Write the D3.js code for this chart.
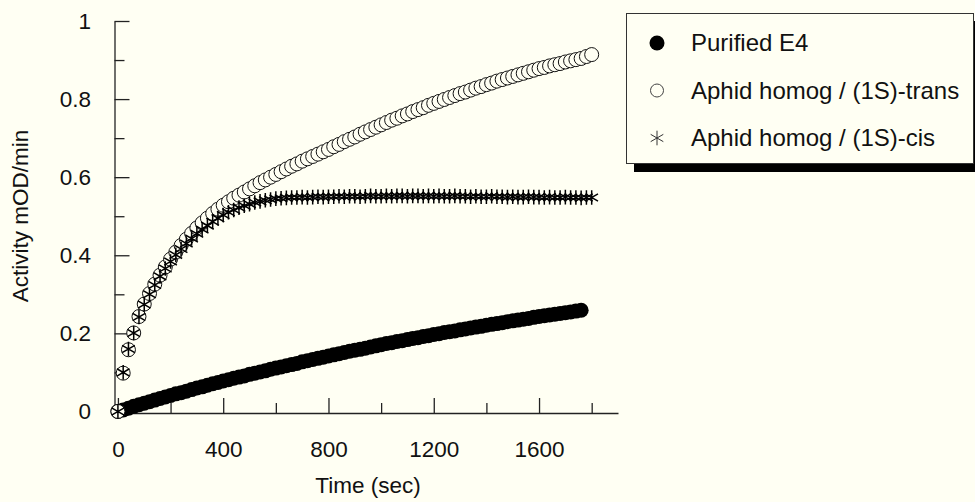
<!DOCTYPE html>
<html>
<head>
<meta charset="utf-8">
<script src="https://cdn.jsdelivr.net/npm/d3@7"></script>
<style>
	body{margin:0;background:#fffff3;}
	svg{display:block;}
</style>
</head>
<body>
<svg id="chart"></svg>
<script>
// sample times (sec)
let times = [
	0,20,40,60,80,100,120,140,160,180,
	200,220,240,260,280,300,320,340,360,380,
	400,420,440,460,480,500,520,540,560,580,
	600,620,640,660,680,700,720,740,760,780,
	800,820,840,860,880,900,920,940,960,980,
	1000,1020,1040,1060,1080,1100,1120,1140,1160,1180,
	1200,1220,1240,1260,1280,1300,1320,1340,1360,1380,
	1400,1420,1440,1460,1480,1500,1520,1540,1560,1580,
	1600,1620,1640,1660,1680,1700,1720,1740,1760,1780,
	1800
]

// Purified E4 (stops at 1760)
let purified = [
	0.000,0.004,0.008,0.013,0.017,0.021,0.025,0.029,0.033,0.037,
	0.041,0.045,0.048,0.052,0.056,0.060,0.063,0.067,0.071,0.074,
	0.078,0.081,0.085,0.088,0.091,0.095,0.098,0.101,0.104,0.108,
	0.111,0.114,0.117,0.120,0.123,0.127,0.130,0.133,0.136,0.139,
	0.142,0.145,0.148,0.151,0.154,0.157,0.159,0.162,0.165,0.168,
	0.171,0.174,0.176,0.179,0.181,0.184,0.187,0.189,0.192,0.194,
	0.197,0.199,0.202,0.204,0.206,0.209,0.211,0.214,0.216,0.218,
	0.221,0.223,0.225,0.227,0.230,0.232,0.234,0.236,0.238,0.241,
	0.243,0.245,0.247,0.249,0.251,0.253,0.255,0.257,0.259
]

// Aphid homog / (1S)-trans
let trans = [
	0.000,0.098,0.158,0.201,0.243,0.275,0.302,0.326,0.349,0.370,
	0.390,0.408,0.425,0.441,0.456,0.470,0.483,0.495,0.507,0.518,
	0.528,0.537,0.546,0.554,0.562,0.570,0.578,0.586,0.593,0.600,
	0.607,0.614,0.621,0.628,0.634,0.641,0.647,0.653,0.659,0.665,
	0.671,0.678,0.684,0.691,0.697,0.703,0.710,0.716,0.722,0.728,
	0.734,0.740,0.746,0.751,0.757,0.762,0.768,0.773,0.778,0.784,
	0.789,0.794,0.799,0.804,0.809,0.814,0.818,0.823,0.828,0.832,
	0.837,0.841,0.846,0.850,0.854,0.858,0.862,0.866,0.870,0.874,
	0.878,0.881,0.885,0.888,0.891,0.895,0.898,0.901,0.904,0.909,
	0.914
]

// Aphid homog / (1S)-cis
let cis = [
	0.000,0.100,0.160,0.201,0.242,0.274,0.300,0.324,0.346,0.366,
	0.384,0.401,0.416,0.430,0.443,0.455,0.466,0.476,0.486,0.495,
	0.503,0.510,0.516,0.522,0.527,0.531,0.535,0.538,0.541,0.543,
	0.545,0.546,0.547,0.548,0.548,0.549,0.548,0.549,0.550,0.549,
	0.550,0.550,0.551,0.550,0.551,0.551,0.550,0.551,0.552,0.551,
	0.551,0.552,0.551,0.552,0.552,0.551,0.552,0.552,0.551,0.552,
	0.551,0.552,0.551,0.551,0.552,0.551,0.551,0.550,0.551,0.550,
	0.550,0.551,0.550,0.550,0.549,0.550,0.549,0.549,0.550,0.549,
	0.549,0.548,0.549,0.548,0.548,0.549,0.548,0.548,0.547,0.548,
	0.548
]

let xMajor = [0,400,800,1200,1600]
let xMinor = [200,600,1000,1400,1800]
let yMajor = [0,0.2,0.4,0.6,0.8,1]
let yMinor = [0.1,0.3,0.5,0.7,0.9]

let legendLabels = ['Purified E4','Aphid homog / (1S)-trans','Aphid homog / (1S)-cis']

let _width = 975
let _height = 502
let bg = '#fffff3'
let ink = '#111'
let font = '"Liberation Sans", Arial, sans-serif'

const svg = d3.select('#chart')
	.attr('width',_width)
	.attr('height',_height)
	.attr('font-family',font)

svg.append('rect')
	.attr('width',_width)
	.attr('height',_height)
	.attr('fill',bg)

// axis runs a little past 0 on the left and past 1800 on the right
const x = d3.scaleLinear().domain([-13,1900]).range([114.5,618])
const y = d3.scaleLinear().domain([-0.004,1]).range([413,21])

/* axes */
svg.append('g')
	.attr('transform','translate(114.5,0)')
	.call(d3.axisLeft(y).tickValues(yMajor).tickSizeInner(-15).tickSizeOuter(0).tickPadding(23.5)
		.tickFormat(d3.format('~g')))
svg.append('g')
	.attr('transform','translate(114.5,0)')
	.call(d3.axisLeft(y).tickValues(yMinor).tickSizeInner(-10).tickSizeOuter(0).tickFormat(''))
	.call(g=>g.select('.domain').remove())

svg.append('g')
	.attr('transform','translate(0,413)')
	.call(d3.axisBottom(x).tickValues(xMajor).tickSizeInner(-15).tickSizeOuter(0).tickPadding(28)
		.tickFormat(d3.format('d')))
svg.append('g')
	.attr('transform','translate(0,413)')
	.call(d3.axisBottom(x).tickValues(xMinor).tickSizeInner(-10).tickSizeOuter(0).tickFormat(''))
	.call(g=>g.select('.domain').remove())

svg.selectAll('.domain, .tick line')
	.attr('stroke','#222')
	.attr('stroke-width',1.3)
svg.selectAll('.tick text')
	.attr('font-size',22.5)
	.attr('font-family',font)
	.attr('fill',ink)

svg.append('text')
	.attr('x',368)
	.attr('y',493)
	.attr('text-anchor','middle')
	.attr('font-size',22.5)
	.attr('fill',ink)
	.text('Time (sec)')

svg.append('text')
	.attr('transform','translate(28,216) rotate(-90)')
	.attr('text-anchor','middle')
	.attr('font-size',22.5)
	.attr('fill',ink)
	.text('Activity mOD/min')

/* series */
const star = d3.symbol().type(d3.symbolAsterisk).size(150)

svg.append('g')
	.selectAll('circle')
	.data(purified)
	.enter()
	.append('circle')
	.attr('cx',(d,i)=>x(times[i]))
	.attr('cy',d=>y(d))
	.attr('r',7.5)
	.attr('fill','#000')

svg.append('g')
	.selectAll('circle')
	.data(trans)
	.enter()
	.append('circle')
	.attr('cx',(d,i)=>x(times[i]))
	.attr('cy',d=>y(d))
	.attr('r',7)
	.attr('fill',bg)
	.attr('stroke','#111')
	.attr('stroke-width',1)

svg.append('g')
	.selectAll('path')
	.data(cis)
	.enter()
	.append('path')
	.attr('transform',(d,i)=>`translate(${x(times[i])},${y(d)})`)
	.attr('d',star)
	.attr('fill','none')
	.attr('stroke','#000')
	.attr('stroke-width',1.5)

/*legend*/
// shadow first, then the box
svg.append('rect')
	.attr('x',634)
	.attr('y',21)
	.attr('width',348)
	.attr('height',151)
	.attr('fill','#000')
svg.append('rect')
	.attr('x',626.5)
	.attr('y',13.5)
	.attr('width',347)
	.attr('height',150)
	.attr('fill',bg)
	.attr('stroke','#333')
	.attr('stroke-width',1)

const legendG = svg
	.selectAll('.legend')
	.data(legendLabels)
	.enter()
	.append('g')
	.attr('transform',(d,i)=>`translate(657,${43 + i * 47.5})`)
	.classed('legend',true)

legendG.append('text')
	.attr('x',34)
	.attr('y',0)
	.attr('dy','0.35em')
	.attr('font-size',24)
	.attr('fill',ink)
	.text(d=>d)

legendG.filter((d,i)=>i==0).append('circle')
	.attr('r',7.5)
	.attr('fill','#000')
legendG.filter((d,i)=>i==1).append('circle')
	.attr('r',6.5)
	.attr('fill',bg)
	.attr('stroke','#444')
	.attr('stroke-width',1)
legendG.filter((d,i)=>i==2).append('path')
	.attr('d',star)
	.attr('fill','none')
	.attr('stroke','#333')
	.attr('stroke-width',1)
</script>
</body>
</html>
